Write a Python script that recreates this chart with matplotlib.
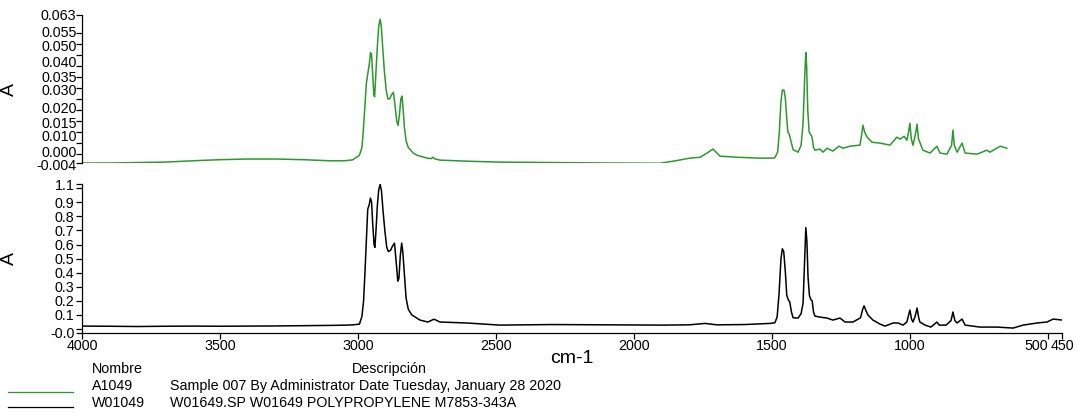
import matplotlib
matplotlib.use("Agg")
import matplotlib.pyplot as plt

plt.rcParams['font.family'] = ['Liberation Sans', 'DejaVu Sans']

# ---- data ----
top_wn = [4000, 3900, 3800, 3700, 3600, 3500, 3400, 3300, 3200, 3100, 3050, 3020,
          2995, 2986, 2982, 2976, 2970, 2964, 2958, 2955, 2951, 2947, 2943, 2940,
          2936, 2930, 2925, 2920, 2916, 2911, 2905, 2898, 2892, 2886, 2878, 2872,
          2866, 2860, 2855, 2850, 2845, 2841, 2837, 2832, 2826, 2818, 2800, 2786,
          2750, 2735, 2729, 2720, 2703, 2600, 2486, 2300, 2100, 1950, 1906, 1850,
          1798, 1761, 1736, 1714, 1700, 1689, 1627, 1544, 1497, 1490, 1480, 1474,
          1468, 1463, 1457, 1452, 1447, 1443, 1438, 1432, 1424, 1406, 1395, 1388,
          1382, 1378, 1375, 1371, 1366, 1361, 1356, 1350, 1345, 1327, 1316, 1301,
          1280, 1258, 1243, 1218, 1182, 1178, 1171, 1165, 1156, 1138, 1109, 1073,
          1048, 1037, 1022, 1012, 1006, 1001, 996, 990, 981, 975, 970, 954, 928,
          903, 892, 867, 850, 845, 840, 830, 812, 801, 758, 722, 711, 674, 650]
top_abs = [-0.0040, -0.0040, -0.0038, -0.0036, -0.0030, -0.0025, -0.0022, -0.0022,
           -0.0025, -0.0030, -0.0030, -0.0026, -0.0005, 0.0030, 0.0090, 0.0200,
           0.0320, 0.0370, 0.0420, 0.0460, 0.0450, 0.0360, 0.0270, 0.0260, 0.0350,
           0.0490, 0.0580, 0.0611, 0.0580, 0.0490, 0.0380, 0.0290, 0.0250, 0.0250,
           0.0270, 0.0280, 0.0220, 0.0150, 0.0130, 0.0180, 0.0250, 0.0263, 0.0210,
           0.0120, 0.0060, 0.0030, 0.0005, -0.0005, -0.0018, -0.0020, -0.0014,
           -0.0022, -0.0027, -0.0032, -0.0036, -0.0038, -0.0040, -0.0041, -0.0041,
           -0.0030, -0.0018, -0.0014, 0.0005, 0.0023, 0.0005, -0.0009, -0.0014,
           -0.0018, -0.0018, -0.0016, 0.0010, 0.0100, 0.0240, 0.0290, 0.0290,
           0.0250, 0.0160, 0.0100, 0.0090, 0.0060, 0.0020, 0.0009, 0.0040, 0.0140,
           0.0350, 0.0460, 0.0400, 0.0200, 0.0100, 0.0090, 0.0080, 0.0030, 0.0018,
           0.0023, 0.0009, 0.0027, 0.0014, 0.0036, 0.0027, 0.0036, 0.0041, 0.0070,
           0.0131, 0.0100, 0.0077, 0.0054, 0.0050, 0.0041, 0.0077, 0.0068, 0.0081,
           0.0063, 0.0100, 0.0140, 0.0070, 0.0040, 0.0090, 0.0136, 0.0070, 0.0018,
           0.0005, 0.0036, 0.0005, 0.0000, 0.0040, 0.0109, 0.0040, 0.0009, 0.0050,
           0.0005, 0.0000, 0.0018, 0.0009, 0.0036, 0.0027]

bot_wn = [4000, 3900, 3800, 3700, 3600, 3500, 3400, 3300, 3200, 3100, 3040, 3018,
          2995, 2986, 2980, 2975, 2970, 2965, 2960, 2955, 2951, 2947, 2942, 2939,
          2935, 2930, 2925, 2920, 2915, 2910, 2903, 2896, 2890, 2882, 2875, 2868,
          2862, 2856, 2852, 2847, 2842, 2838, 2832, 2826, 2818, 2805, 2776, 2747,
          2725, 2703, 2605, 2486, 2300, 2100, 1900, 1800, 1743, 1700, 1600, 1508,
          1490, 1482, 1475, 1468, 1463, 1458, 1452, 1447, 1442, 1436, 1430, 1424,
          1406, 1395, 1388, 1382, 1378, 1374, 1370, 1365, 1360, 1355, 1350, 1345,
          1327, 1301, 1280, 1254, 1236, 1207, 1180, 1172, 1167, 1160, 1153, 1135,
          1109, 1091, 1062, 1044, 1026, 1012, 1008, 1001, 995, 990, 982, 975, 969,
          965, 946, 925, 903, 895, 870, 852, 845, 838, 830, 812, 801, 747, 686,
          627, 591, 540, 504, 482, 450]
bot_abs = [0.021, 0.020, 0.018, 0.020, 0.021, 0.020, 0.021, 0.022, 0.024, 0.026,
           0.028, 0.030, 0.035, 0.090, 0.200, 0.400, 0.620, 0.850, 0.880, 0.930,
           0.900, 0.750, 0.600, 0.580, 0.700, 0.880, 0.990, 1.028, 0.980, 0.850,
           0.700, 0.580, 0.550, 0.560, 0.590, 0.610, 0.480, 0.340, 0.360, 0.520,
           0.610, 0.550, 0.380, 0.220, 0.140, 0.100, 0.064, 0.050, 0.070, 0.050,
           0.043, 0.028, 0.032, 0.030, 0.028, 0.030, 0.040, 0.030, 0.032, 0.040,
           0.045, 0.085, 0.250, 0.500, 0.570, 0.550, 0.400, 0.240, 0.210, 0.190,
           0.120, 0.080, 0.078, 0.110, 0.184, 0.500, 0.720, 0.620, 0.370, 0.240,
           0.210, 0.200, 0.120, 0.092, 0.085, 0.078, 0.064, 0.078, 0.050, 0.050,
           0.080, 0.140, 0.165, 0.130, 0.100, 0.064, 0.035, 0.021, 0.043, 0.043,
           0.028, 0.050, 0.080, 0.135, 0.070, 0.050, 0.090, 0.149, 0.080, 0.050,
           0.028, 0.014, 0.050, 0.028, 0.028, 0.060, 0.121, 0.060, 0.043, 0.071,
           0.028, 0.014, 0.014, 0.007, 0.028, 0.043, 0.050, 0.071, 0.064]

x_ticks = [4000, 3500, 3000, 2500, 2000, 1500, 1000, 500, 450]
x_labels = ['4000', '3500', '3000', '2500', '2000', '1500', '1000', '500', '450']

top_ticks = [0.063, 0.055, 0.050, 0.045, 0.040, 0.035, 0.030, 0.025, 0.020,
             0.015, 0.010, 0.005, 0.000, -0.004]
# labels of the upper axis, drawn where the reference places them (pixel rows)
top_label_text = ['0.063', '0.055', '0.050', '0.040', '0.035', '0.030',
                  '0.020', '0.015', '0.010', '0.000', '-0.004']
top_label_row = [16, 33, 47, 63, 78, 91, 109, 124, 137, 153, 166]

bot_ticks = [1.03, 1.0, 0.9, 0.8, 0.7, 0.6, 0.5, 0.4, 0.3, 0.2, 0.1, 0.0, -0.028]
bot_labels = ['1.1', '', '0.9', '0.8', '0.7', '0.6', '0.5', '0.4', '0.3', '0.2',
              '0.1', '', '-0.0']

legend_names = ['A1049', 'W01049']
legend_desc = ['Sample 007 By Administrator Date Tuesday, January 28 2020',
               'W01649.SP W01649 POLYPROPYLENE M7853-343A']
green = '#2b9a2b'
line_colors = [green, 'black']

W, H = 1078, 417
fig = plt.figure(figsize=(W / 100, H / 100), dpi=100)

def fx(px):
    return px / W

def fy(py):
    return 1 - py / H

ax_top = fig.add_axes([fx(82), fy(163), fx(980), (163 - 15) / H])
ax_bot = fig.add_axes([fx(82), fy(333), fx(980), (333 - 184) / H])

fs = 10.3
for ax in (ax_top, ax_bot):
    for s in ('top', 'right'):
        ax.spines[s].set_visible(False)
    ax.set_xlim(4000, 450)
    ax.tick_params(axis='y', direction='out', length=4, width=0.9, labelsize=fs, pad=1.5)
    ax.spines['left'].set_linewidth(0.9)

ax_top.spines['bottom'].set_visible(False)
ax_top.set_xticks([])
ax_top.plot(top_wn, top_abs, color=green, lw=1.1)
ax_top.set_ylim(-0.004, 0.063)
ax_top.set_yticks(top_ticks)
ax_top.set_yticklabels([''] * len(top_ticks))
for txt, row in zip(top_label_text, top_label_row):
    fig.text(fx(76.5), fy(row), txt, fontsize=fs, ha='right', va='center')
ax_top.set_ylabel('A', fontsize=14)
ax_top.yaxis.set_label_coords((18 - 82) / 980, 0.5)

ax_bot.plot(bot_wn, bot_abs, color='black', lw=1.1)
ax_bot.set_ylim(-0.028, 1.03)
ax_bot.set_yticks(bot_ticks)
ax_bot.set_yticklabels(bot_labels)
ax_bot.set_ylabel('A', fontsize=14)
ax_bot.yaxis.set_label_coords((18 - 82) / 980, 0.5)
ax_bot.spines['bottom'].set_linewidth(0.9)
ax_bot.set_xticks(x_ticks)
ax_bot.set_xticklabels(x_labels)
ax_bot.tick_params(axis='x', direction='out', length=4, width=0.9, labelsize=fs, pad=0)
lbls = ax_bot.get_xticklabels()
lbls[7].set_ha('right')
ax_bot.set_xlabel('cm-1', fontsize=14, labelpad=-2)

# legend table
fig.text(fx(92), fy(369), 'Nombre', fontsize=fs, va='center', ha='left')
fig.text(fx(389), fy(369), 'Descripción', fontsize=fs, va='center', ha='center')
rows_y = [386, 403]
line_y = [392, 407]
for name, desc, col, ty, ly in zip(legend_names, legend_desc, line_colors, rows_y, line_y):
    fig.add_artist(plt.Line2D([fx(8), fx(73)], [fy(ly), fy(ly)], color=col, lw=0.9))
    fig.text(fx(92), fy(ty), name, fontsize=fs, va='center', ha='left')
    fig.text(fx(170), fy(ty), desc, fontsize=fs, va='center', ha='left')

fig.savefig('out.png', dpi=100)
